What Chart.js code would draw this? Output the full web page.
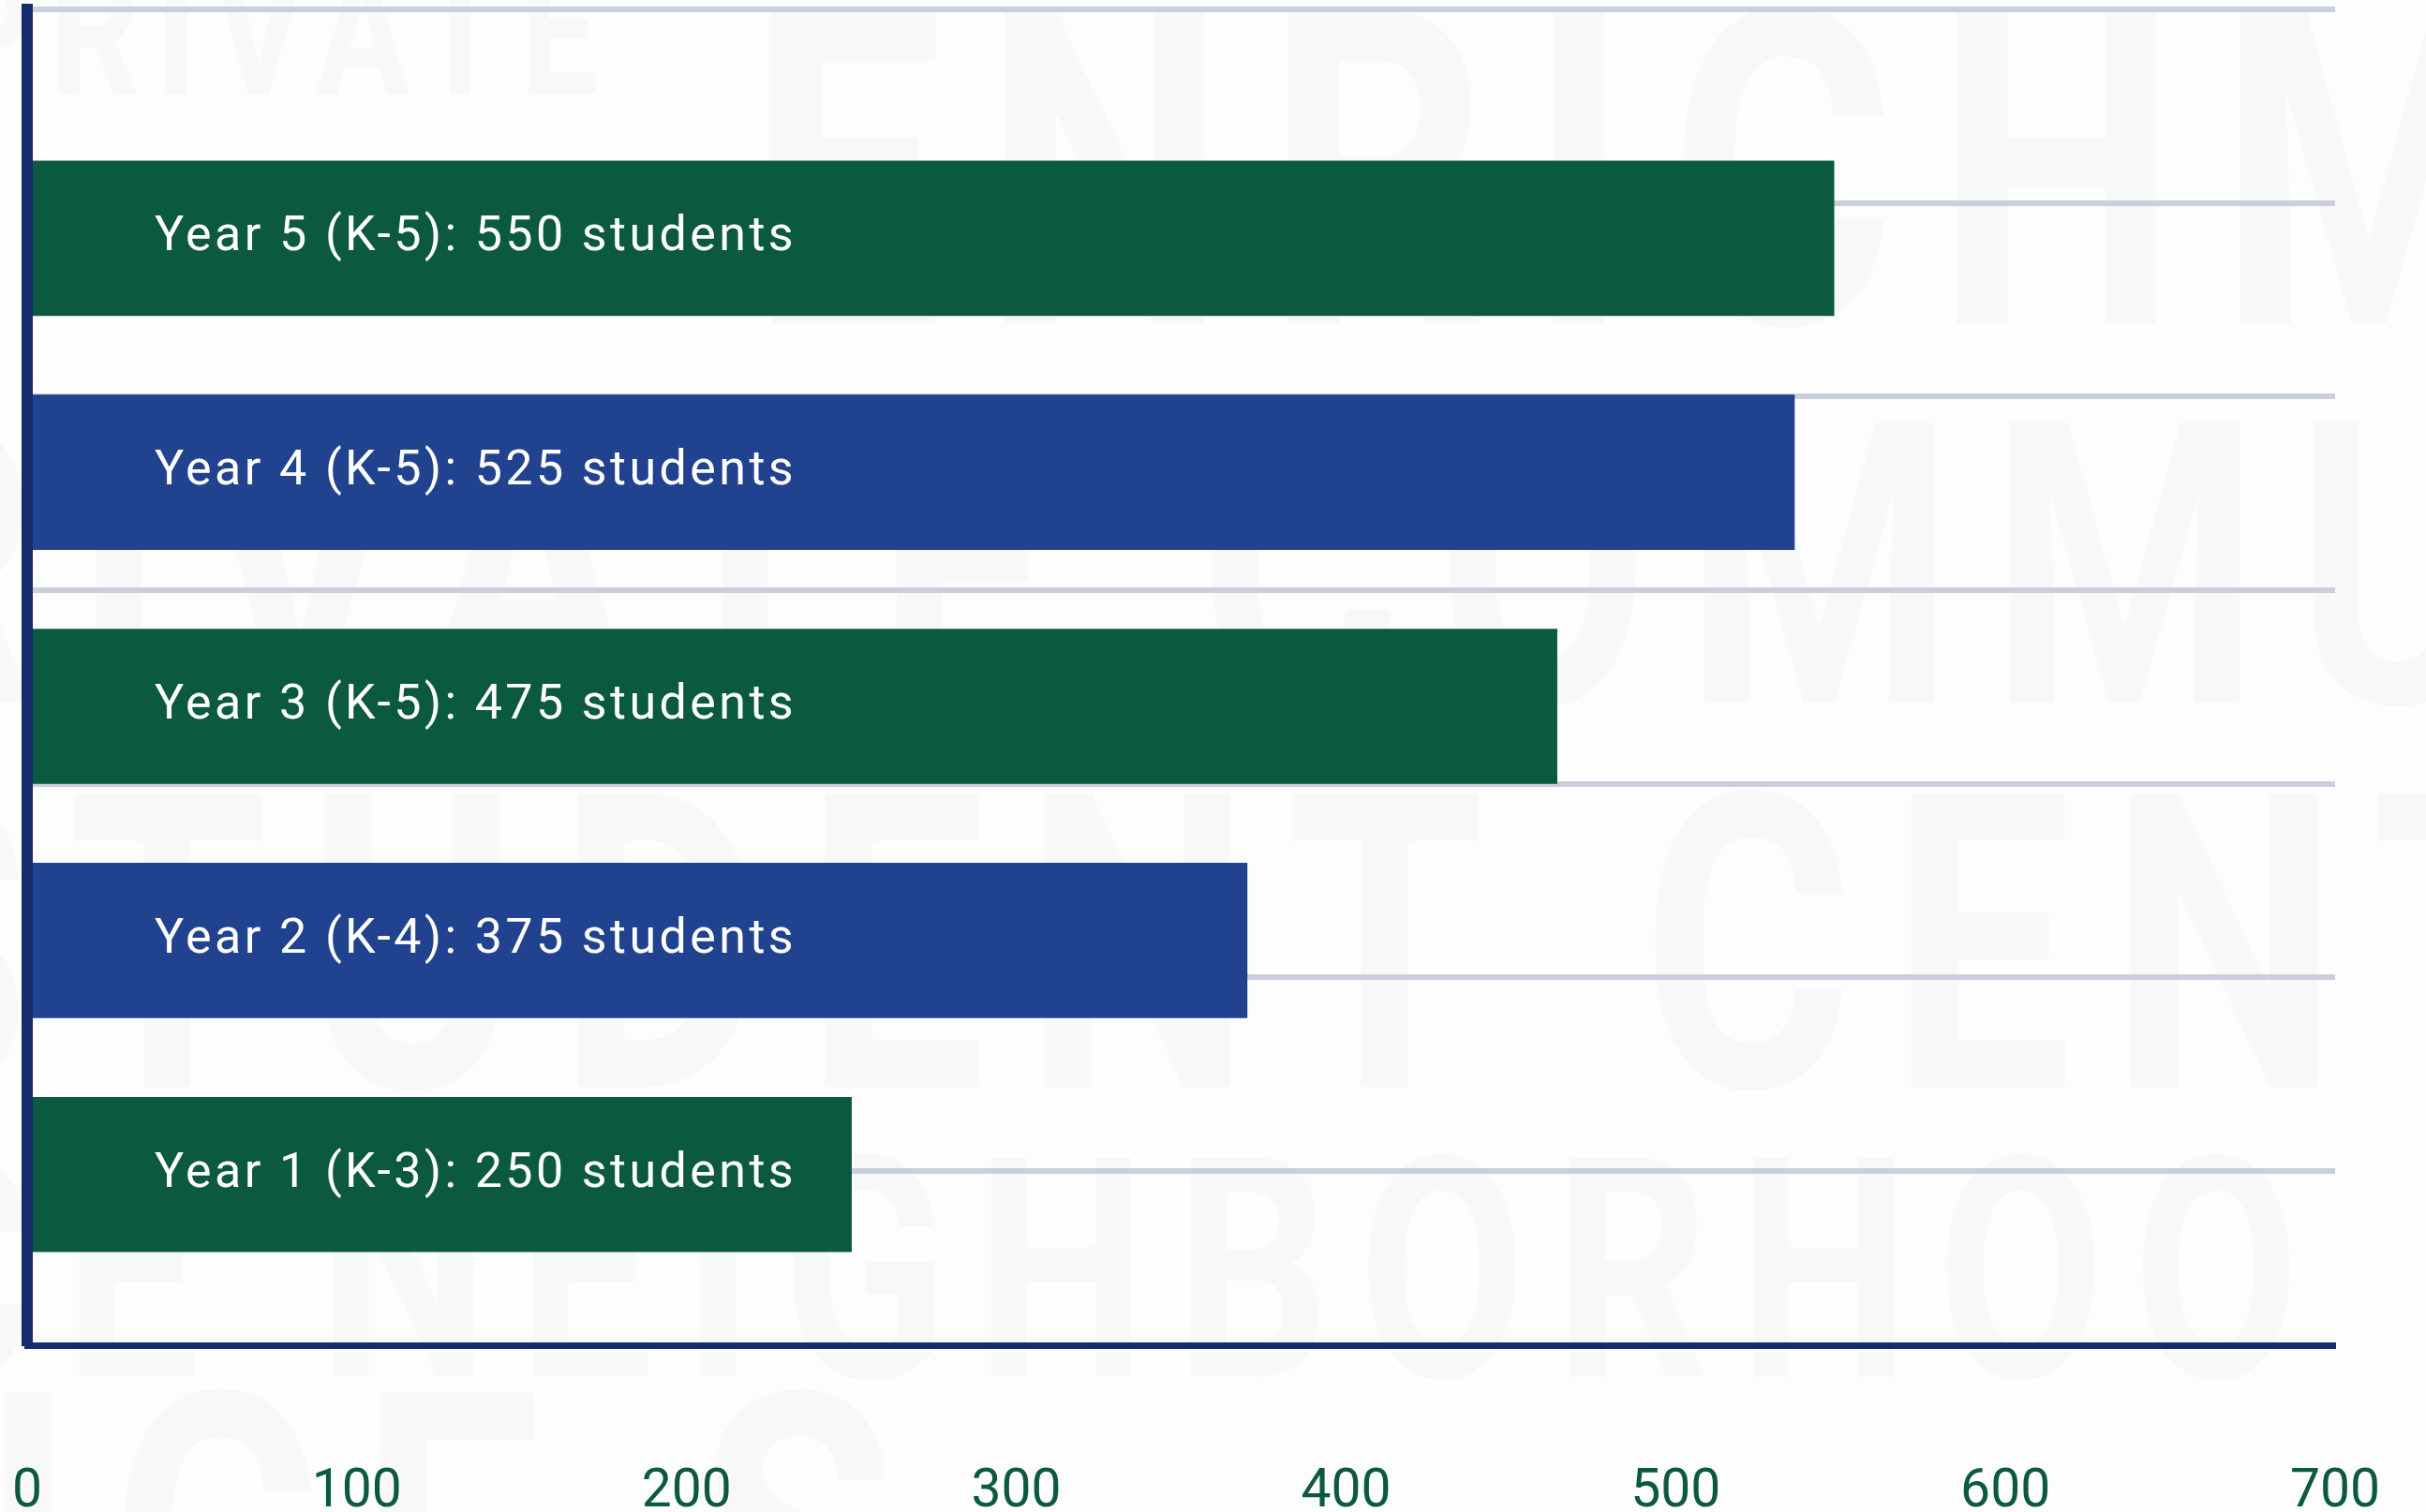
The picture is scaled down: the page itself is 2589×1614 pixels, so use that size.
<!DOCTYPE html>
<html>
<head>
<meta charset="utf-8">
<title>Enrollment by year</title>
<script src="https://cdn.jsdelivr.net/npm/chart.js@4.4.1/dist/chart.umd.min.js"></script>
<style>
  html, body { margin: 0; padding: 0; background: #fdfdfd; }
  #wrap { width: 2589px; height: 1614px; position: relative; }
</style>
</head>
<body>
<div id="wrap"><canvas id="enrollChart"></canvas></div>
<script>
// Chart data (top bar first)
const categories = [
  "Year 5 (K-5): 550 students",
  "Year 4 (K-5): 525 students",
  "Year 3 (K-5): 475 students",
  "Year 2 (K-4): 375 students",
  "Year 1 (K-3): 250 students",
];
const students = [548, 536, 464, 370, 250];
const xMin = 0;
const xMax = 700;
const xStep = 100;
// horizontal guide lines behind the bars
const guideLines = [0, 1, 2, 3, 4, 5, 6];

const GREEN = "#0b5a3f";
const BLUE = "#21428f";
const NAVY = "#142c6b";
const GRID = "#c9cfdd";

// keep the tick padding from pushing the chart area inwards
function noAutoPadding(scale) {
  scale.paddingTop = 0;
  scale.paddingBottom = 0;
  scale.paddingLeft = 0;
  scale.paddingRight = 0;
}

// Faint background lettering behind the chart
const watermark = {
  id: "watermark",
  beforeDraw(chart) {
    const ctx = chart.ctx;
    ctx.save();
    ctx.fillStyle = "#f8f8f8";
    ctx.textBaseline = "alphabetic";
    const rows = [
      { text: "PRIVATE", x: -60, y: 100, size: 190 },
      { text: "ENRICHM", x: 800, y: 345, size: 470 },
      { text: "PRIVATE COMMU", x: -420, y: 750, size: 420 },
      { text: "STUDENT CENTERE", x: -180, y: 1160, size: 440 },
      { text: "ENCE NEIGHBORHOO", x: -520, y: 1470, size: 330 },
      { text: "ENCE S", x: -400, y: 1800, size: 440 },
    ];
    rows.forEach((r) => {
      ctx.font = "bold " + r.size + "px Roboto";
      ctx.letterSpacing = Math.round(r.size * 0.12) + "px";
      ctx.save();
      ctx.translate(r.x, r.y);
      ctx.scale(0.78, 1);
      ctx.fillText(r.text, 0, 0);
      ctx.restore();
    });
    ctx.letterSpacing = "0px";
    ctx.restore();
  },
  afterDatasetsDraw(chart) {
    // spaced lettering for the labels inside the bars
    chart.ctx.letterSpacing = "3.4px";
  },
  afterDraw(chart) {
    chart.ctx.letterSpacing = "0px";
  },
};

const ctx = document.getElementById("enrollChart");
new Chart(ctx, {
  type: "bar",
  data: {
    datasets: [
      {
        data: students.map((v, i) => ({ x: v, y: i })),
        backgroundColor: students.map((v, i) => (i % 2 === 0 ? GREEN : BLUE)),
        borderWidth: 0,
        barThickness: 165,
        xAxisID: "x",
        yAxisID: "y",
      },
    ],
  },
  options: {
    indexAxis: "y",
    responsive: true,
    maintainAspectRatio: false,
    animation: false,
    devicePixelRatio: 1,
    layout: { padding: { top: 10, left: 29, right: 97, bottom: 0 } },
    plugins: {
      legend: { display: false },
      tooltip: { enabled: false },
    },
    scales: {
      x: {
        type: "linear",
        min: xMin,
        max: xMax,
        afterFit: noAutoPadding,
        grid: { color: "transparent", drawTicks: true, tickLength: 138, tickColor: "transparent" },
        border: { color: NAVY, width: 7 },
        ticks: {
          stepSize: xStep,
          color: GREEN,
          padding: 0,
          font: { family: "Roboto", size: 57, lineHeight: 0.7 },
        },
      },
      y: {
        type: "linear",
        position: "left",
        reverse: true,
        offset: false,
        bounds: "data",
        min: -0.978,
        max: 4.73,
        afterBuildTicks: (scale) => {
          scale.ticks = categories.map((c, i) => ({ value: i }));
        },
        afterFit: (scale) => {
          noAutoPadding(scale);
          scale.width = 0; // labels sit inside the bars
        },
        grid: { display: false, drawTicks: false, offset: false },
        border: { color: NAVY, width: 12, z: 1 },
        ticks: {
          mirror: true,
          padding: 136,
          z: 1,
          color: "#ffffff",
          font: { family: "Roboto", size: 52 },
          callback: (value) => categories[value] || "",
        },
      },
      g: {
        type: "linear",
        position: "right",
        reverse: true,
        offset: false,
        bounds: "data",
        min: 0,
        max: 6.9,
        afterBuildTicks: (scale) => {
          scale.ticks = guideLines.map((v) => ({ value: v }));
        },
        afterFit: noAutoPadding,
        grid: { color: GRID, lineWidth: 6, drawTicks: false, offset: false },
        border: { display: false },
        ticks: { display: false },
      },
    },
  },
  plugins: [watermark],
});
</script>
</body>
</html>
